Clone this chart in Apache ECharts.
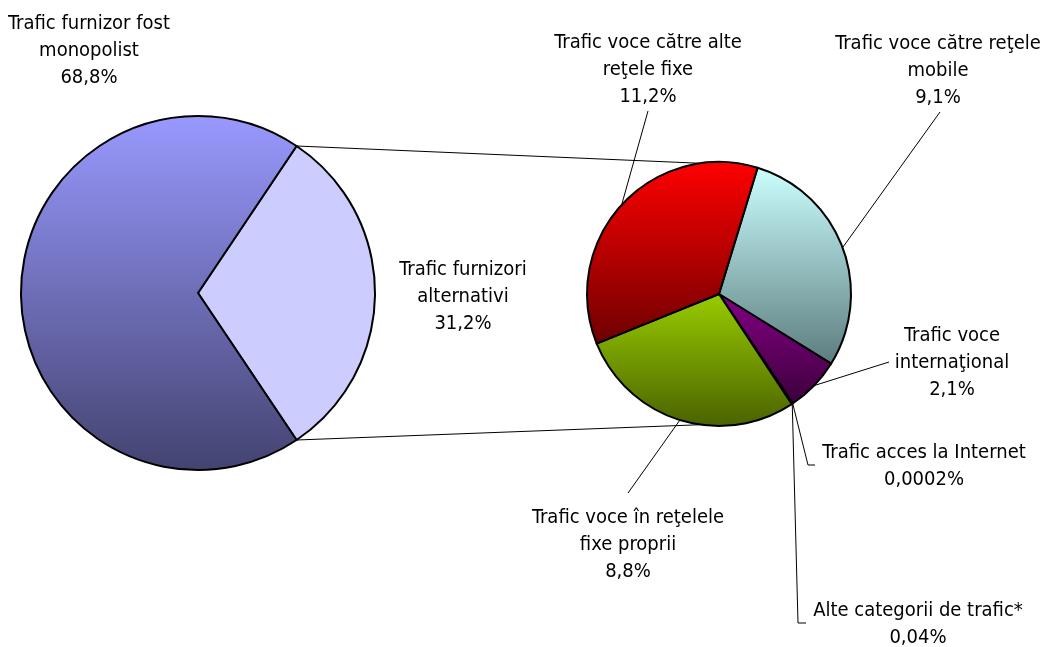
<!DOCTYPE html>
<html>
<head>
<meta charset="utf-8">
<title>Trafic</title>
<script src="https://cdn.jsdelivr.net/npm/echarts@6/dist/echarts.min.js"></script>
<style>
html, body { margin: 0; height: 100%; background: #fff; }
#main { width: 1046px; height: 647px; }
</style>
</head>
<body>
<div id="main"></div>
<script>
// pie principal
var mainNames = ['Trafic furnizori\nalternativi', 'Trafic furnizor fost\nmonopolist'];
var mainValues = [31.2, 68.8];

// detaliere trafic furnizori alternativi
var subNames = [
    'Trafic voce către reţele\nmobile',
    'Trafic voce\ninternaţional',
    'Trafic acces la Internet',
    'Alte categorii de trafic*',
    'Trafic voce în reţelele\nfixe proprii',
    'Trafic voce către alte\nreţele fixe'
];
var subValues = [9.1, 2.1, 0.0002, 0.04, 8.8, 11.2];

var mainColors = [['#CCCCFF', '#CCCCFF'], ['#9999FF', '#434370']];
var subColors = [
    ['#CCFFFF', '#5C7C7E'],
    ['#850085', '#3C003C'],
    ['#800080', '#400040'],
    ['#800080', '#400040'],
    ['#99CC00', '#4A6200'],
    ['#FF0000', '#6E0000']
];

var C1 = [198, 293], R1 = 177;
var C2 = [719, 294], R2 = 132;
var font = '"DejaVu Sans Condensed", "DejaVu Sans", sans-serif';

// pozitii etichete [x, y] si capat linie
var mainLabelPos = [[463, 297], [89, 51]];
var subLabelPos = [
    {c: [938, 71], pts: [[940, 112]]},
    {c: [952, 363], pts: [[889, 362]]},
    {c: [924, 466], pts: [[808, 465], [815, 465]]},
    {c: [918, 624], pts: [[798, 623], [806, 623]]},
    {c: [628, 545], pts: [[628, 493]]},
    {c: [648, 70], pts: [[648, 111]]}
];

function grad(c) {
    return {type: 'linear', x: 0, y: 0, x2: 0, y2: 1,
        colorStops: [{offset: 0, color: c[0]}, {offset: 1, color: c[1]}]};
}
function fmt(v) { return String(v).replace('.', ','); }

var mainData = mainValues.map(function (v, i) {
    return {name: mainNames[i], value: v, itemStyle: {color: grad(mainColors[i])}};
});
var subData = subValues.map(function (v, i) {
    return {name: subNames[i], value: v, itemStyle: {color: grad(subColors[i])}};
});

// felia alternativa centrata pe orizontala
var half = mainValues[0] / (mainValues[0] + mainValues[1]) * 180;
var h = half * Math.PI / 180;

// linii de legatura intre cele doua pie-uri
var pTop = [C1[0] + R1 * Math.cos(h), C1[1] - R1 * Math.sin(h)];
var pBot = [C1[0] + R1 * Math.cos(h), C1[1] + R1 * Math.sin(h)];
var off = 8 * Math.PI / 180;
var qTop = [C2[0] - R2 * Math.sin(off), C2[1] - R2 * Math.cos(off)];
var qBot = [C2[0] - R2 * Math.sin(off), C2[1] + R2 * Math.cos(off)];

var labelStyle = {
    show: true,
    position: 'outside',
    color: '#000',
    fontFamily: font,
    fontSize: 20,
    lineHeight: 27,
    formatter: function (p) { return p.name + '\n' + fmt(p.value) + '%'; }
};

var myChart = echarts.init(document.getElementById('main'));
myChart.setOption({
    animation: false,
    backgroundColor: '#fff',
    graphic: [
        {type: 'line', z: 0, shape: {x1: pTop[0], y1: pTop[1], x2: qTop[0], y2: qTop[1]}, style: {stroke: '#000', lineWidth: 1}},
        {type: 'line', z: 0, shape: {x1: pBot[0], y1: pBot[1], x2: qBot[0], y2: qBot[1]}, style: {stroke: '#000', lineWidth: 1}}
    ],
    series: [
        {
            type: 'pie',
            center: C1,
            radius: R1,
            startAngle: half,
            clockwise: true,
            avoidLabelOverlap: false,
            z: 3,
            data: mainData,
            itemStyle: {borderColor: '#000', borderWidth: 2},
            label: labelStyle,
            labelLine: {show: false},
            labelLayout: function (p) {
                var pos = mainLabelPos[p.dataIndex];
                return {x: pos[0], y: pos[1], align: 'center', verticalAlign: 'middle'};
            },
            emphasis: {disabled: true}
        },
        {
            type: 'pie',
            center: C2,
            radius: R2,
            startAngle: 73,
            clockwise: true,
            minAngle: 0,
            avoidLabelOverlap: false,
            z: 3,
            data: subData,
            itemStyle: {borderColor: '#000', borderWidth: 2},
            label: labelStyle,
            labelLine: {show: true, lineStyle: {color: '#000', width: 1}},
            labelLayout: function (p) {
                var pos = subLabelPos[p.dataIndex];
                var start = p.labelLinePoints ? p.labelLinePoints[0] : pos.pts[0];
                var pts = [start].concat(pos.pts);
                if (pts.length < 3) pts.push(pts[pts.length - 1]);
                return {x: pos.c[0], y: pos.c[1], align: 'center', verticalAlign: 'middle', labelLinePoints: pts};
            },
            emphasis: {disabled: true}
        }
    ]
});
</script>
</body>
</html>
